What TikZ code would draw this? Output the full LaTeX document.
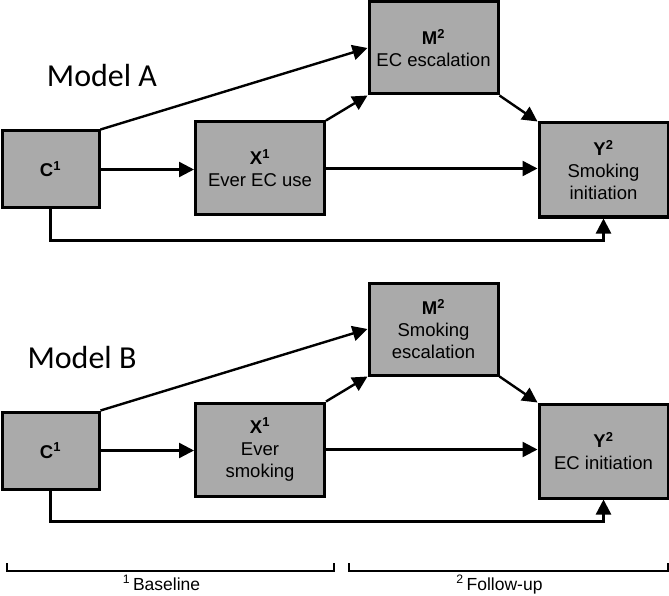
\documentclass[tikz,border=0pt]{standalone}
\usepackage{fontspec}
\setmainfont{Liberation Sans}
\newfontfamily\modelfont{Carlito}
\usetikzlibrary{arrows.meta}
\definecolor{boxgray}{RGB}{170,170,170}
\begin{document}
\begin{tikzpicture}[x=1pt, y=-1pt,
    box/.style={draw, line width=3pt, fill=boxgray, align=center, inner sep=0pt,
        font=\fontsize{18.5}{22}\selectfont},
    arr/.style={line width=2.4pt, -{Triangle[length=15pt,width=15pt]}},
    title/.style={anchor=base, font=\modelfont\fontsize{32}{38}\selectfont}]
        \useasboundingbox (0,0) rectangle (669,596);
        % Both models, one below the other
        \foreach \m/\dy/\tx/\mtxt/\xtxt/\ytxt in {A/0/102/EC escalation/Ever EC use/{Smoking\\initiation},
                                                B/281/82/{Smoking\\escalation}/{Ever\\smoking}/EC initiation} {
            \node[title] (title\m) at (\tx,87+\dy) {Model \m};
            % Boxes
            \node[box, minimum width=97pt, minimum height=77pt] (C\m) at (50.5,169.5+\dy) {\textbf{C\textsuperscript{1}}};
            \node[box, minimum width=129pt, minimum height=93pt] (X\m) at (260,168.5+\dy) {\textbf{X\textsuperscript{1}}\\\xtxt};
            \node[box, minimum width=129pt, minimum height=92pt] (M\m) at (433.5,48+\dy) {\textbf{M\textsuperscript{2}}\\\mtxt};
            \node[box, minimum width=129pt, minimum height=94pt] (Y\m) at (603.5,170+\dy) {\textbf{Y\textsuperscript{2}}\\\ytxt};
            % Paths
            \draw[arr] (C\m.east) -- (C\m.east -| X\m.west);
            \draw[arr] (X\m.east) -- (X\m.east -| Y\m.west);
            \draw[arr] (C\m.north east) -- (M\m.west);
            \draw[arr] (X\m.north east) -- (M\m.south west);
            \draw[arr] (M\m.south east) -- (Y\m.north west);
            \draw[arr] (C\m.south) -- ++(0,31) -| (Y\m.south);
        }
        % Time brackets
        \foreach \a/\b/\n/\t in {7/334/1/Baseline, 349/668/2/Follow-up} {
            \draw[line width=1.6pt] (\a,563) -- (\a,571) -- (\b,571) -- (\b,563);
            \node[anchor=base, font=\fontsize{17.5}{20}\selectfont] (time\n) at ({(\a+\b)/2-9},590) {\textsuperscript{\n}\,\t};
        }
    \end{tikzpicture}
\end{document}
